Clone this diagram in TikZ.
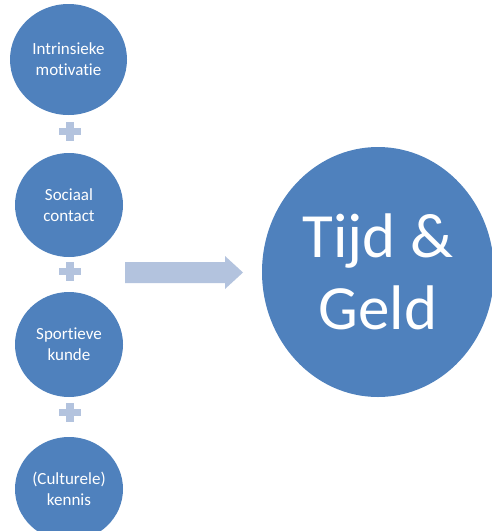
\documentclass[tikz,border=0pt]{standalone}
\usepackage{fontspec}
\setmainfont{Carlito}[Ligatures = NoCommon]
\usetikzlibrary{shapes.geometric}
\definecolor{bolblauw}{HTML}{4F81BD}
\definecolor{lichtblauw}{HTML}{B3C3DE}
\tikzset{
    factor/.style = {ellipse, fill = bolblauw, inner sep = 0pt, text = white,
        align = center, font = \fontsize{17}{21}\selectfont},
    uitkomst/.style = {ellipse, fill = bolblauw, inner sep = 0pt, text = white,
        align = center, font = \fontsize{63}{72}\selectfont},
    pluspic/.pic = {
        \fill[lichtblauw] (-11,-3.5) rectangle (11,3.5);
        \fill[lichtblauw] (-4,-9.5) rectangle (4,9.5);
    }
}
\begin{document}
\begin{tikzpicture}[x = 1pt, y = -1pt]
    \useasboundingbox (0,0) rectangle (492,531);
    \clip (0,0) rectangle (492,531);
    \node[factor, minimum width = 117pt, minimum height = 111pt] (motivatie) at (68.5,59.5) {Intrinsieke\\motivatie};
    \node[factor, minimum width = 108pt, minimum height = 104pt] (contact) at (69,205) {Sociaal\\contact};
    \node[factor, minimum width = 108pt, minimum height = 105pt] (kunde) at (69,344.5) {Sportieve\\kunde};
    \node[factor, minimum width = 108pt, minimum height = 104pt] (kennis) at (69,489) {(Culturele)\\kennis};
    \pic at (70,131) {pluspic};
    \pic at (70,271) {pluspic};
    \pic at (70,412) {pluspic};
    % blokpijl
    \fill[lichtblauw] (125,262) -- (225,262) -- (225,256) -- (243,272.5) -- (225,289) -- (225,283) -- (125,283) -- cycle;
    \node[uitkomst, minimum width = 232pt, minimum height = 250pt] (tijdgeld) at (378,272) {Tijd \&\\Geld};
\end{tikzpicture}
\end{document}
